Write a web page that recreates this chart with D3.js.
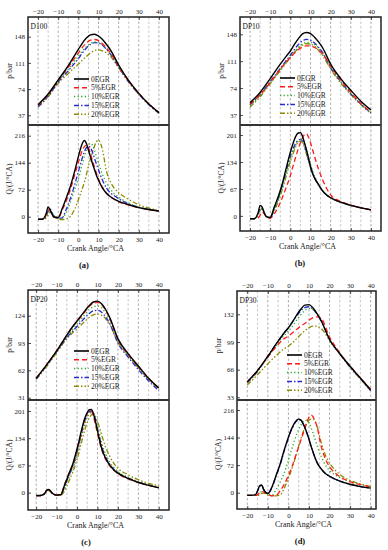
<!DOCTYPE html>
<html>
<head>
<meta charset="utf-8">
<script src="https://cdn.jsdelivr.net/npm/d3@7"></script>
<style>
  body { margin: 0; background: #fff; }
  svg { display: block; font-family: "Liberation Serif", "DejaVu Serif", serif; }
</style>
</head>
<body>
<svg id="chart" width="388" height="550"></svg>
<script>
// crank angle grids (deg CA)
const angleP = [-20, -15, -10, -5, -2, 0, 2, 4, 6, 8, 10, 12, 14, 16, 20, 25, 30, 35, 40];
const angleQ = [-20, -18, -16, -15, -14, -13, -12, -10, -8, -6, -4, -2, 0, 1, 2, 3, 4, 5, 6, 7, 8, 9, 10, 11, 12, 14, 16, 18, 20, 25, 30, 35, 40];

const seriesNames = ["0EGR", "5%EGR", "10%EGR", "15%EGR", "20%EGR"];
const panelNames = ["D100", "DP10", "DP20", "DP30"];
const captions = ["(a)", "(b)", "(c)", "(d)"];
const xTicks = [-20, -10, 0, 10, 20, 30, 40];
const pTicks = [[37, 74, 111, 148], [37, 74, 111, 148], [31, 62, 93, 124], [33, 66, 99, 132]];
const qTicks = [[0, 72, 144, 216], [0, 67, 134, 201], [0, 67, 134, 201], [0, 72, 144, 216]];

// cylinder pressure, bar  (order: 0, 5, 10, 15, 20 %EGR)
const pA = [
  [52, 67, 87, 107, 121, 130, 139, 146, 150.5, 151.5, 149, 144, 137, 129, 108, 86, 68, 53, 41],
  [51, 66, 86, 105, 117, 125, 133, 139, 143, 144, 142.5, 138, 132, 125, 106, 85, 68, 53, 41],
  [50, 65, 85, 102, 113, 120, 128, 134, 138.5, 140.5, 140, 136.5, 131, 124, 106, 85, 68, 53, 40],
  [49, 64, 84, 100, 110, 117, 125, 132, 137, 139.5, 139, 136, 130, 123, 105, 84, 67, 52, 40],
  [49, 63, 82, 96, 104, 109, 115, 120, 125, 128.5, 129.5, 128, 125, 120, 104, 84, 67, 52, 40]
];
const pB = [
  [54, 68, 87, 107, 118, 125, 134, 142, 148.5, 150.5, 149, 144, 137.5, 129.5, 107, 87, 71, 56, 44],
  [52, 65, 82, 100, 110, 116, 122, 127, 130.5, 132, 132, 130, 126, 121, 104, 85, 68, 53, 41],
  [50, 64, 81, 99, 110, 117, 124, 130, 134.5, 137, 137, 134, 129, 122, 102, 83, 66, 52, 40],
  [51, 65, 83, 101, 112, 119, 127, 134, 139, 141, 140, 136, 130, 123, 102, 83, 66, 52, 40],
  [48, 62, 80, 98, 109, 116, 123, 129, 133, 135, 134.5, 131.5, 126, 119, 100, 81, 65, 51, 39]
];
const pC = [
  [53, 68, 84, 102, 112, 118, 124, 130, 135.5, 139.5, 140.5, 137.5, 131, 122, 98, 81, 67, 53, 42],
  [53, 68, 84, 102, 112, 117.5, 123, 129, 134.5, 138, 139, 136.5, 130, 121, 97, 80, 66, 53, 42],
  [52, 67, 83, 100, 109, 114, 120, 126, 131, 134, 135, 133, 127, 119, 96, 79, 65, 52, 41],
  [52, 67, 83, 99, 107, 112, 117, 122, 126.5, 129.5, 130, 128, 122.5, 115, 93, 77, 63, 50, 39],
  [52, 66, 82, 98, 105, 109, 113.5, 118, 122, 125, 126, 124.5, 120.5, 114, 94, 79, 65, 52, 41]
];
const pD = [
  [51.5, 65, 82, 100, 110, 116, 123, 131, 138, 143, 143.5, 139.5, 132.5, 124, 102, 85, 70, 56, 42],
  [51, 65, 81, 96, 103, 106, 110, 114, 118, 121, 125, 128, 129, 127, 105, 86, 70, 56, 42],
  [50, 64, 81, 98, 107, 112, 118, 125, 131.5, 136.5, 139, 137.5, 132, 124, 102, 85, 69, 55, 41],
  [50, 64, 82, 100, 110, 116, 123, 130, 136, 140, 141, 138, 132, 124, 102, 85, 69, 55, 41],
  [47.5, 60, 73, 85, 91, 94, 98, 103, 108, 112.5, 116, 118, 117.5, 115, 101, 85, 69, 55, 41]
];

// heat release rate, J/degCA
const qA = [
  [-7, -7, 8, 26, 18, 6, -1, -2, 22, 50, 80, 118, 160, 180, 196, 203, 195, 178, 160, 142, 126, 110, 97, 86, 76, 62, 53, 46, 41, 32, 24, 19, 15],
  [-7, -7, 4, 19, 16, 6, -2, -3, 18, 42, 72, 108, 145, 162, 177, 187, 191, 185, 168, 150, 132, 116, 101, 88, 78, 63, 53, 46, 40, 31, 24, 19, 15],
  [-7, -7, 2, 12, 17, 9, 0, -5, -4, 12, 38, 70, 100, 120, 142, 161, 178, 190, 196, 191, 177, 160, 143, 127, 112, 90, 73, 60, 52, 36, 26, 20, 15],
  [-7, -7, 2, 15, 20, 10, 0, -4, -3, 20, 48, 82, 120, 140, 158, 173, 184, 188, 184, 172, 156, 140, 125, 110, 97, 76, 63, 55, 48, 34, 25, 20, 15],
  [-7, -7, -4, 5, 13, 9, 2, -6, -8, -6, 0, 18, 45, 60, 76, 92, 112, 135, 155, 172, 188, 200, 204, 196, 178, 120, 92, 75, 64, 46, 32, 23, 16]
];
const qB = [
  [-7, -7, 8, 26, 22, 8, -2, -4, 22, 48, 80, 120, 158, 175, 190, 201, 206, 207, 198, 182, 164, 144, 122, 106, 94, 78, 62, 52, 45, 34, 26, 20, 15],
  [-7, -7, -5, 2, 10, 6, 0, -6, 5, 22, 45, 72, 100, 118, 135, 152, 168, 182, 194, 202, 204, 196, 182, 165, 148, 116, 90, 68, 52, 36, 27, 20, 15],
  [-7, -7, 3, 16, 18, 8, -1, -5, 15, 40, 70, 105, 140, 155, 168, 179, 186, 190, 189, 180, 164, 146, 128, 112, 99, 78, 63, 52, 45, 34, 26, 20, 15],
  [-7, -7, 4, 18, 19, 8, -1, -5, 18, 44, 75, 112, 148, 162, 174, 183, 188, 190, 186, 175, 158, 140, 123, 108, 96, 77, 62, 52, 45, 34, 26, 20, 15],
  [-7, -7, 3, 14, 17, 8, -1, -5, 12, 36, 66, 100, 135, 150, 164, 176, 184, 186, 182, 170, 153, 136, 120, 106, 94, 76, 62, 52, 45, 34, 26, 20, 15]
];
const qC = [
  [-7, -7, -3, 5, 8, 4, -2, -6, -5, 20, 46, 72, 108, 128, 150, 170, 186, 197, 204, 205, 195, 175, 152, 130, 110, 84, 68, 56, 48, 35, 25, 18, 12],
  [-7, -7, -3, 6, 9, 4, -2, -6, -4, 22, 48, 70, 104, 124, 146, 166, 183, 195, 201, 200, 188, 168, 146, 125, 107, 82, 66, 55, 47, 34, 25, 18, 13],
  [-7, -7, -3, 4, 6, 3, -2, -6, -5, 12, 38, 62, 95, 114, 135, 155, 172, 185, 194, 197, 194, 182, 164, 144, 124, 94, 75, 62, 52, 38, 27, 20, 14],
  [-7, -7, -3, 4, 7, 3, -2, -6, -5, 16, 42, 66, 100, 120, 142, 163, 180, 192, 199, 201, 196, 180, 158, 136, 115, 88, 70, 58, 49, 36, 26, 19, 13],
  [-7, -7, -4, 2, 5, 3, -2, -6, -6, 5, 28, 52, 82, 100, 120, 140, 158, 173, 184, 191, 193, 188, 176, 160, 143, 112, 90, 72, 60, 44, 32, 23, 17]
];
const qD = [
  [-7, -7, -5, 5, 18, 20, 8, -2, 15, 45, 75, 112, 145, 160, 172, 182, 189, 192, 190, 182, 170, 156, 140, 122, 106, 78, 62, 50, 43, 30, 22, 16, 12],
  [-7, -7, -7, -5, 0, 3, 2, -5, -8, -7, 5, 22, 45, 58, 72, 88, 104, 120, 136, 152, 168, 184, 197, 203, 198, 170, 120, 88, 68, 42, 29, 21, 15],
  [-7, -7, -7, -6, -2, 4, 7, -3, -6, 8, 28, 52, 85, 103, 120, 137, 152, 165, 176, 184, 189, 189, 182, 170, 155, 122, 94, 72, 58, 40, 28, 20, 14],
  [-7, -7, -5, 4, 17, 19, 8, -2, 13, 43, 73, 110, 143, 158, 170, 180, 187, 190, 189, 181, 169, 155, 139, 121, 105, 78, 62, 50, 43, 30, 22, 16, 12],
  [-7, -7, -7, -7, -5, -2, -1, -6, -8, -8, -6, 12, 38, 52, 68, 85, 102, 122, 140, 156, 170, 182, 189, 192, 192, 172, 130, 98, 78, 48, 32, 23, 16]
];

const pData = [pA, pB, pC, pD];
const qData = [qA, qB, qC, qD];

const colors = ["#000000", "#ff1a1a", "#22aa22", "#2a2ad0", "#8c8c00"];
const dashes = [null, "5,3", "1.2,2.4", "5,2,1.5,2", "5,2,1.5,2,1.5,2"];
const widths = [1.4, 1.3, 1.3, 1.3, 1.3];

// frame geometry of the four panels
const layout = [
  { x0: 28, x1: 169, top: 17, mid: 125, bot: 233, xd: [-25, 45], pd: [23.3, 175.8], qd: [-43.5, 244.5], legX: 46, legY: 62, cap: 84 },
  { x0: 240, x1: 381, top: 17, mid: 125, bot: 231, xd: [-25, 45], pd: [23.2, 171.8], qd: [-37.6, 225.9], legX: 40, legY: 61, cap: 300 },
  { x0: 28, x1: 169, top: 290, mid: 400, bot: 510, xd: [-24, 45], pd: [28.4, 153.1], qd: [-42.6, 228], legX: 46, legY: 61, cap: 86 },
  { x0: 237, x1: 376, top: 291, mid: 400, bot: 509, xd: [-25, 42.6], pd: [29.8, 159.8], qd: [-42.5, 242], legX: 50, legY: 64, cap: 300 }
];

const svg = d3.select("#chart");

layout.forEach((L, i) => {
  const g = svg.append("g");
  const x = d3.scaleLinear().domain(L.xd).range([L.x0, L.x1]);
  const yP = d3.scaleLinear().domain(L.pd).range([L.mid, L.top]);
  const yQ = d3.scaleLinear().domain(L.qd).range([L.bot, L.mid]);

  // vertical dashed grid every 5 deg
  const gridVals = d3.range(-20, 41, 5);
  g.append("g").selectAll("line").data(gridVals).join("line")
    .attr("x1", d => x(d)).attr("x2", d => x(d))
    .attr("y1", L.top).attr("y2", L.bot)
    .attr("stroke", d => d % 10 === 0 ? "#8a8a8a" : "#b0b0b0")
    .attr("stroke-width", 0.7)
    .attr("stroke-dasharray", "2.5,2");

  // curves
  const lineP = d3.line().x((d, k) => x(angleP[k])).y(d => yP(d)).curve(d3.curveMonotoneX);
  const lineQ = d3.line().x((d, k) => x(angleQ[k])).y(d => yQ(d)).curve(d3.curveMonotoneX);
  const order = [4, 3, 2, 1, 0];
  order.forEach(s => {
    g.append("path").attr("d", lineP(pData[i][s]))
      .attr("fill", "none").attr("stroke", colors[s]).attr("stroke-width", widths[s])
      .attr("stroke-dasharray", dashes[s]);
    g.append("path").attr("d", lineQ(qData[i][s]))
      .attr("fill", "none").attr("stroke", colors[s]).attr("stroke-width", widths[s])
      .attr("stroke-dasharray", dashes[s]);
  });

  // axes (inward ticks)
  const axB = d3.axisBottom(x).tickValues(xTicks).tickSize(-3).tickPadding(4).tickFormat(d3.format("d"));
  const axT = d3.axisTop(x).tickValues(xTicks).tickSize(-3).tickPadding(3).tickFormat(d3.format("d"));
  const axP = d3.axisLeft(yP).tickValues(pTicks[i]).tickSize(-3).tickPadding(3);
  const axQ = d3.axisLeft(yQ).tickValues(qTicks[i]).tickSize(-3).tickPadding(3);
  g.append("g").attr("transform", `translate(0,${L.bot})`).call(axB);
  g.append("g").attr("transform", `translate(0,${L.top})`).call(axT);
  g.append("g").attr("transform", `translate(${L.x0},0)`).call(axP);
  g.append("g").attr("transform", `translate(${L.x0},0)`).call(axQ);
  g.selectAll(".domain").remove();
  g.selectAll(".tick text").attr("font-size", 7).attr("font-family", "Liberation Serif").attr("fill", "#222");
  g.selectAll(".tick line").attr("stroke", "#222").attr("stroke-width", 0.8);

  // frame and divider
  g.append("rect").attr("x", L.x0).attr("y", L.top)
    .attr("width", L.x1 - L.x0).attr("height", L.bot - L.top)
    .attr("fill", "none").attr("stroke", "#222").attr("stroke-width", 1.5);
  g.append("line").attr("x1", L.x0).attr("x2", L.x1).attr("y1", L.mid).attr("y2", L.mid)
    .attr("stroke", "#333").attr("stroke-width", 2.2);

  // titles
  g.append("text").attr("transform", `translate(${L.x0 - 16},${(L.top + L.mid) / 2}) rotate(-90)`)
    .attr("text-anchor", "middle").attr("font-size", 7.5).attr("fill", "#222").text("p/bar");
  g.append("text").attr("transform", `translate(${L.x0 - 16},${(L.mid + L.bot) / 2}) rotate(-90)`)
    .attr("text-anchor", "middle").attr("font-size", 7.5).attr("fill", "#222").text("Q/(J/°CA)");
  g.append("text").attr("x", (L.x0 + L.x1) / 2 - 3).attr("y", L.bot + 18)
    .attr("text-anchor", "middle").attr("font-size", 8).attr("fill", "#222").text("Crank Angle/°CA");
  g.append("text").attr("x", L.cap).attr("y", L.bot + 35)
    .attr("text-anchor", "middle").attr("font-size", 8.5).attr("font-weight", "bold").attr("fill", "#111").text(captions[i]);
  g.append("text").attr("x", L.x0 + 2.5).attr("y", L.top + 12)
    .attr("font-size", 7.5).attr("fill", "#111").text(panelNames[i]);

  // legend
  const leg = g.append("g").attr("transform", `translate(${L.x0 + L.legX},${L.top + L.legY})`);
  seriesNames.forEach((name, s) => {
    const row = leg.append("g").attr("transform", `translate(0,${s * 8.8})`);
    row.append("line").attr("x1", 0).attr("x2", 15).attr("y1", 0).attr("y2", 0)
      .attr("stroke", colors[s]).attr("stroke-width", widths[s] + 0.2).attr("stroke-dasharray", dashes[s]);
    row.append("text").attr("x", 17).attr("y", 2.6).attr("font-size", 7.5).attr("fill", "#222").text(name);
  });
});
</script>
</body>
</html>
